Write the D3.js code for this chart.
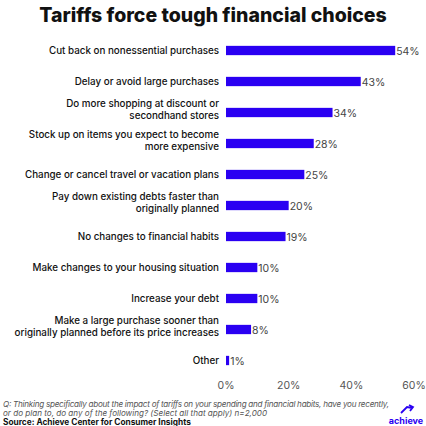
<!DOCTYPE html><html><head><script src="https://cdn.jsdelivr.net/npm/d3@7"></script>
<style>body{margin:0;background:#fff}</style></head><body><svg id="c" width="426" height="426"></svg>
<script>
const categories=[["Cut back on nonessential purchases"],["Delay or avoid large purchases"],["Do more shopping at discount or","secondhand stores"],["Stock up on items you expect to become","more expensive"],["Change or cancel travel or vacation plans"],["Pay down existing debts faster than","originally planned"],["No changes to financial habits"],["Make changes to your housing situation"],["Increase your debt"],["Make a large purchase sooner than","originally planned before its price increases"],["Other"]];
const values=[54,43,34,28,25,20,19,10,10,8,1];
const ticks=[0,20,40,60];
const svg=d3.select("#c"),F="Inter, 'DejaVu Sans', sans-serif";
svg.append("text").attr("x",213).attr("y",22).attr("text-anchor","middle").attr("font-family",F).attr("font-weight",800).attr("font-size",19.5).attr("fill","#111").text("Tariffs force tough financial choices");
const x=d3.scaleLinear().domain([0,60]).range([226,414]);
const y=d3.scaleBand().domain(d3.range(values.length)).range([35,376]).paddingInner(0.7).paddingOuter(0.35);
const g=svg.append("g");
values.forEach((v,i)=>{
 const yc=y(i)+y.bandwidth()/2;
 g.append("rect").attr("x",x(0)).attr("y",y(i)).attr("width",x(v)-x(0)).attr("height",y.bandwidth()).attr("fill","#2a00f2");
 g.append("text").attr("x",x(v)+1).attr("y",yc+4).attr("font-family",F).attr("font-size",10.5).attr("fill","#444").text(v+"%");
 const L=categories[i];
 L.forEach((t,k)=>g.append("text").attr("x",219).attr("y",yc+3.5+(k-(L.length-1)/2)*12-(L.length>1?3:0)).attr("text-anchor","end").attr("font-family",F).attr("font-size",9.8).attr("font-weight",500).attr("fill","#111").text(t));
});
ticks.forEach(t=>svg.append("text").attr("x",x(t)).attr("y",389).attr("text-anchor","middle").attr("font-family",F).attr("font-size",10.5).attr("fill","#555").text(t+"%"));
const n=svg.append("g").attr("font-family",F).attr("font-size",8.1).attr("font-style","italic").attr("fill","#555");
n.append("text").attr("x",3).attr("y",407).attr("textLength",386).text("Q: Thinking specifically about the impact of tariffs on your spending and financial habits, have you recently,");
n.append("text").attr("x",3).attr("y",416).text("or do plan to, do any of the following? (Select all that apply) n=2,000");
svg.append("text").attr("x",3).attr("y",425).attr("font-family",F).attr("font-size",8.3).attr("font-weight",700).attr("fill","#111").text("Source: Achieve Center for Consumer Insights");
svg.append("text").attr("x",406).attr("y",424).attr("text-anchor","middle").attr("font-family",F).attr("font-size",9).attr("font-weight",700).attr("fill","#2a00f2").text("achieve");
svg.append("path").attr("d","M401,413 L407,407 L412,408 M409,405 L413,407 L410,411").attr("stroke","#2a00f2").attr("stroke-width",1.8).attr("fill","none");
</script></body></html>
